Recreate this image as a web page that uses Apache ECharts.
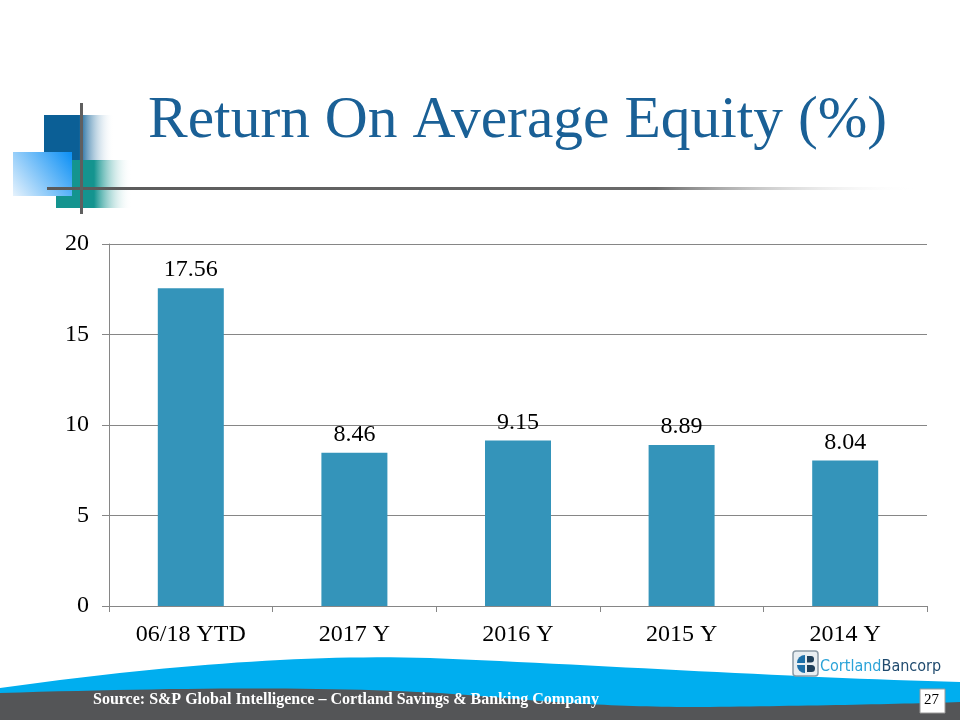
<!DOCTYPE html>
<html>
<head>
<meta charset="utf-8">
<script src="https://cdn.jsdelivr.net/npm/echarts@6/dist/echarts.min.js"></script>
<style>
html,body{margin:0;padding:0;background:#fff;}
#chart{width:960px;height:720px;}
</style>
</head>
<body>
<div id="chart"></div>
<script>
const categories = ['06/18 YTD', '2017 Y', '2016 Y', '2015 Y', '2014 Y'];
const roaeValues = [17.56, 8.46, 9.15, 8.89, 8.04];
const yTicks = [0, 5, 10, 15, 20];
const titleText = 'Return On Average Equity (%)';
const sourceText = 'Source: S&P Global Intelligence \u2013 Cortland Savings & Banking Company';
const pageNumber = '27';

const serif = '"Liberation Serif", "Times New Roman", serif';
const chart = echarts.init(document.getElementById('chart'), null, {renderer: 'canvas'});

// sample a chain of cubic beziers into polygon points (decoration only)
function bezierPoly(start, segs, closeTo) {
  const pts = [start];
  let p0 = start;
  segs.forEach(([c1, c2, p3]) => {
    for (let i = 1; i <= 30; i++) {
      const t = i / 30, u = 1 - t;
      pts.push([
        u*u*u*p0[0] + 3*u*u*t*c1[0] + 3*u*t*t*c2[0] + t*t*t*p3[0],
        u*u*u*p0[1] + 3*u*u*t*c1[1] + 3*u*t*t*c2[1] + t*t*t*p3[1]
      ]);
    }
    p0 = p3;
  });
  return pts.concat(closeTo);
}
const bluePts = bezierPoly([0,688], [[[150,667],[300,654],[430,658]], [[600,665],[800,678],[960,682]]], [[960,720],[0,720]]);
const grayPts = bezierPoly([0,693], [[[200,687],[360,686],[480,696]], [[560,703],[620,707],[700,707]], [[800,706],[900,704],[960,702]]], [[960,720],[0,720]]);

chart.setOption({
  animation: false,
  backgroundColor: '#ffffff',
  grid: {left: 109, right: 33, top: 244, bottom: 114},
  xAxis: {
    type: 'category',
    data: categories,
    axisLine: {lineStyle: {color: '#868686', width: 1}},
    axisTick: {show: true, length: 6, lineStyle: {color: '#868686'}},
    axisLabel: {color: '#000', fontFamily: serif, fontSize: 24, margin: 17}
  },
  yAxis: {
    type: 'value',
    min: yTicks[0], max: yTicks[yTicks.length - 1], interval: 5,
    axisLine: {show: true, lineStyle: {color: '#868686'}},
    axisTick: {show: true, length: 7, lineStyle: {color: '#868686'}},
    splitLine: {lineStyle: {color: '#868686', width: 1}},
    axisLabel: {color: '#000', fontFamily: serif, fontSize: 24, margin: 20}
  },
  series: [{
    type: 'bar',
    data: roaeValues,
    barWidth: 66,
    itemStyle: {color: '#3494BA'},
    label: {show: true, position: 'top', distance: 6, color: '#000', fontFamily: serif, fontSize: 24,
      formatter: p => p.value.toFixed(2)}
  }],
  graphic: [
    {type: 'polygon', z: 1, shape: {points: bluePts}, style: {fill: '#00AEEF'}},
    {type: 'polygon', z: 2, shape: {points: grayPts}, style: {fill: '#545557'}},
    {type: 'text', z: 3, left: 93, top: 692, style: {text: sourceText, fill: '#ffffff', font: 'bold 16px ' + serif}},
    {type: 'rect', z: 3, shape: {x: 920, y: 689, width: 25, height: 24}, style: {fill: '#ffffff', stroke: '#9a9a9a', lineWidth: 1}},
    {type: 'text', z: 4, left: 924, top: 693, style: {text: pageNumber, fill: '#000', font: '15px ' + serif}},
    // logo
    {type: 'rect', z: 3, shape: {x: 793, y: 651, width: 25, height: 25, r: 3}, style: {fill: '#e8eef2', stroke: '#8a9aa6', lineWidth: 1.5}},
    {type: 'sector', z: 4, shape: {cx: 805, cy: 663, r0: 0, r: 8, startAngle: Math.PI, endAngle: Math.PI * 1.5}, style: {fill: '#1C6FA8'}},
    {type: 'sector', z: 4, shape: {cx: 805, cy: 665, r0: 0, r: 8, startAngle: Math.PI * 0.5, endAngle: Math.PI}, style: {fill: '#1C6FA8'}},
    {type: 'rect', z: 4, shape: {x: 807, y: 656, width: 7, height: 6.5, r: [0, 3, 3, 0]}, style: {fill: '#1E3F5A'}},
    {type: 'rect', z: 4, shape: {x: 807, y: 665, width: 8, height: 7, r: [0, 3.5, 3.5, 0]}, style: {fill: '#1E3F5A'}},
    {type: 'text', z: 4, left: 820, top: 659, style: {
      text: '{a|Cortland}{b|Bancorp}',
      rich: {a: {fill: '#2BA3D8', font: '16px "Liberation Sans Narrow", "DejaVu Sans Condensed", sans-serif'},
             b: {fill: '#1F4A6E', font: '16px "Liberation Sans Narrow", "DejaVu Sans Condensed", sans-serif'}}
    }},
    // top-left decoration
    {type: 'rect', z: 1, shape: {x: 44, y: 115, width: 70, height: 46}, style: {fill: {type:'linear', x:0,y:0,x2:1,y2:0, colorStops:[{offset:0,color:'#0B5F96'},{offset:0.5,color:'#0B5F96'},{offset:1,color:'rgba(255,255,255,0)'}]}}},
    {type: 'rect', z: 2, shape: {x: 56, y: 160, width: 76, height: 48}, style: {fill: {type:'linear', x:0,y:0,x2:1,y2:0, colorStops:[{offset:0,color:'#14948F'},{offset:0.5,color:'#14948F'},{offset:1,color:'rgba(255,255,255,0)'}]}}},
    {type: 'rect', z: 3, shape: {x: 13, y: 152, width: 59, height: 44}, style: {fill: {type:'linear', x:1,y:0,x2:0,y2:1, colorStops:[{offset:0,color:'#0A8FF5'},{offset:1,color:'#E6F2FC'}]}}},
    {type: 'rect', z: 4, shape: {x: 47, y: 187, width: 870, height: 3}, style: {fill: {type:'linear', x:0,y:0,x2:1,y2:0, colorStops:[{offset:0,color:'#5a5a5a'},{offset:0.7,color:'#6a6a6a'},{offset:1,color:'rgba(255,255,255,0)'}]}}},
    {type: 'rect', z: 4, shape: {x: 80, y: 103, width: 3, height: 111}, style: {fill: '#5f5f5f'}},
    // title
    {type: 'text', z: 5, left: 148, top: 91, style: {text: titleText, fill: '#1A6096', font: '59.5px ' + serif}}
  ]
});
</script>
</body>
</html>
